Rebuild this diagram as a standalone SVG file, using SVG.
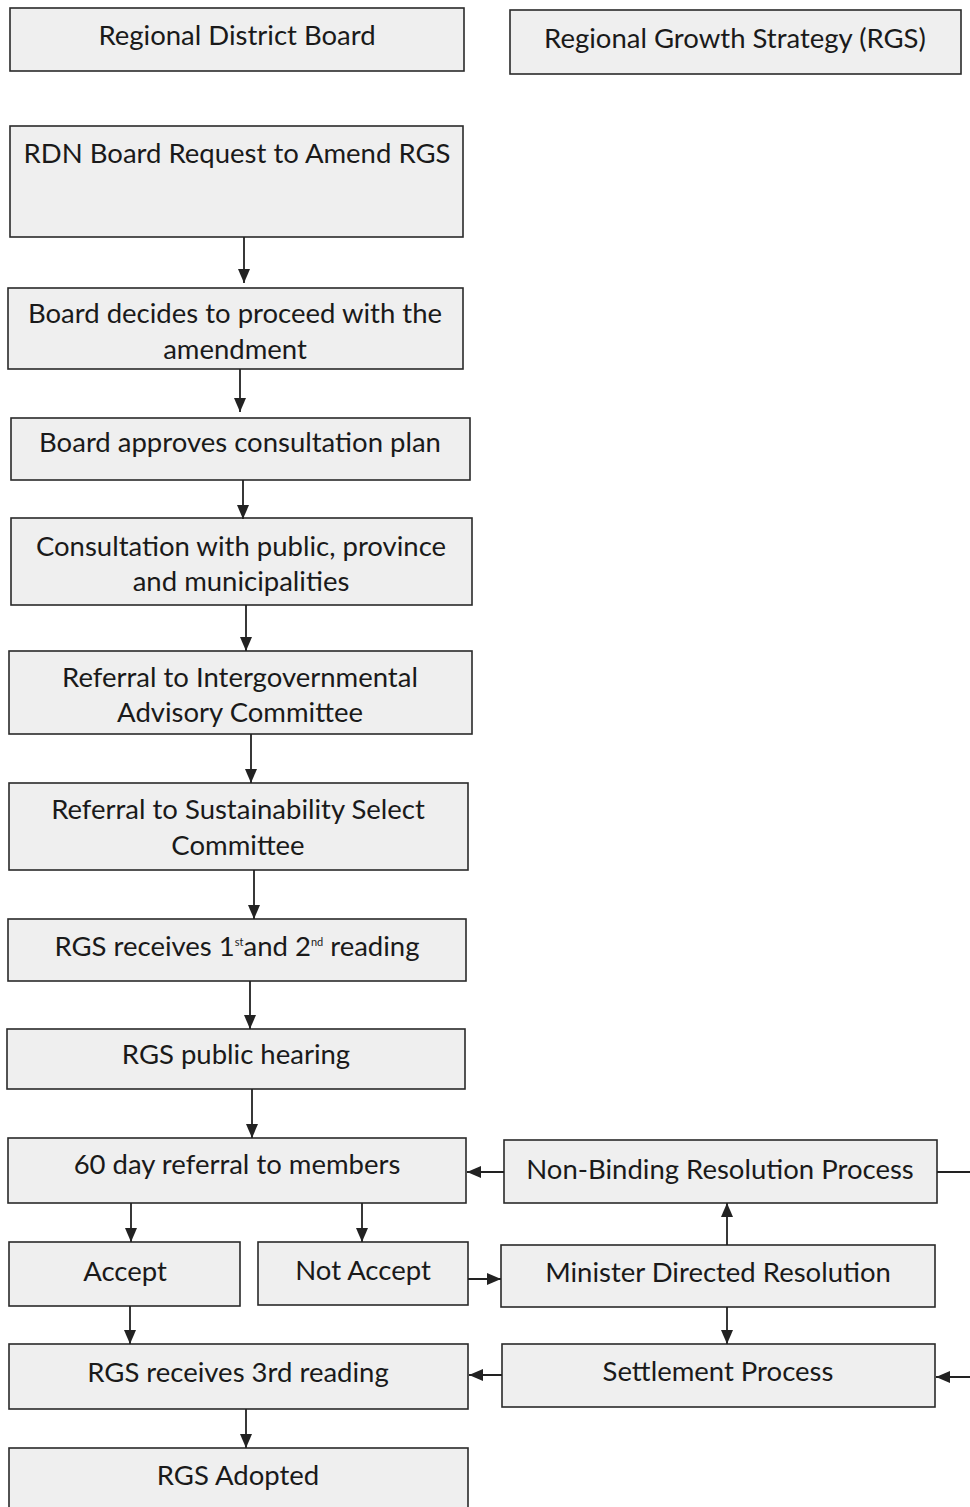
<svg xmlns="http://www.w3.org/2000/svg" width="970" height="1507" viewBox="0 0 970 1507">
  <defs>
    <marker id="arrow" viewBox="0 0 14 14" refX="14" refY="7" markerWidth="14" markerHeight="14" markerUnits="userSpaceOnUse" orient="auto">
      <path d="M0,1 L14,7 L0,13 Z" fill="#222"/>
    </marker>
  </defs>
  <style>
    .box { fill: #efefef; stroke: #2a2a2a; stroke-width: 1.6; }
    .lbl { font-family: Lato, "Open Sans", sans-serif; font-size: 27.5px; fill: #1a1a1a; text-anchor: middle; }
    .sup { font-size: 11px; }
    .edge { fill: none; stroke: #222; stroke-width: 1.8; }
    .edge-a { fill: none; stroke: #222; stroke-width: 1.8; marker-end: url(#arrow); }
  </style>
  <rect width="970" height="1507" fill="#ffffff"/>

  <g id="n-rdb"><rect class="box" x="10" y="8" width="454" height="63"/><text class="lbl" x="237" y="45">Regional District Board</text></g>
  <g id="n-rgs"><rect class="box" x="510" y="10" width="451" height="64"/><text class="lbl" x="735" y="48">Regional Growth Strategy (RGS)</text></g>
  <g id="n-request"><rect class="box" x="10" y="126" width="453" height="111"/><text class="lbl" x="237" y="163">RDN Board Request to Amend RGS</text></g>
  <g id="n-decides"><rect class="box" x="8" y="288" width="455" height="81"/><text class="lbl" x="235" y="323">Board decides to proceed with the</text><text class="lbl" x="235" y="359">amendment</text></g>
  <g id="n-plan"><rect class="box" x="11" y="418" width="459" height="62"/><text class="lbl" x="240" y="452">Board approves consultation plan</text></g>
  <g id="n-consult"><rect class="box" x="11" y="518" width="461" height="87"/><text class="lbl" x="241" y="556">Consultation with public, province</text><text class="lbl" x="241" y="591">and municipalities</text></g>
  <g id="n-iac"><rect class="box" x="9" y="651" width="463" height="83"/><text class="lbl" x="240" y="687">Referral to Intergovernmental</text><text class="lbl" x="240" y="722">Advisory Committee</text></g>
  <g id="n-ssc"><rect class="box" x="9" y="783" width="459" height="87"/><text class="lbl" x="238" y="819">Referral to Sustainability Select</text><text class="lbl" x="238" y="855">Committee</text></g>
  <g id="n-reading12"><rect class="box" x="8" y="919" width="458" height="62"/><text class="lbl" x="237" y="956">RGS receives 1<tspan class="sup" dy="-10">st</tspan><tspan dy="10">and 2</tspan><tspan class="sup" dy="-10">nd</tspan><tspan dy="10"> reading</tspan></text></g>
  <g id="n-hearing"><rect class="box" x="7" y="1029" width="458" height="60"/><text class="lbl" x="236" y="1064">RGS public hearing</text></g>
  <g id="n-referral"><rect class="box" x="8" y="1138" width="458" height="65"/><text class="lbl" x="237" y="1174">60 day referral to members</text></g>
  <g id="n-accept"><rect class="box" x="9" y="1242" width="231" height="64"/><text class="lbl" x="125" y="1281">Accept</text></g>
  <g id="n-notaccept"><rect class="box" x="258" y="1242" width="210" height="63"/><text class="lbl" x="363" y="1280">Not Accept</text></g>
  <g id="n-reading3"><rect class="box" x="9" y="1344" width="459" height="65"/><text class="lbl" x="238" y="1382">RGS receives 3rd reading</text></g>
  <g id="n-adopted"><rect class="box" x="9" y="1448" width="459" height="70"/><text class="lbl" x="238" y="1485">RGS Adopted</text></g>
  <g id="n-nonbinding"><rect class="box" x="504" y="1140" width="433" height="63"/><text class="lbl" x="720" y="1179">Non-Binding Resolution Process</text></g>
  <g id="n-minister"><rect class="box" x="501" y="1245" width="434" height="62"/><text class="lbl" x="718" y="1282">Minister Directed Resolution</text></g>
  <g id="n-settlement"><rect class="box" x="502" y="1344" width="433" height="63"/><text class="lbl" x="718" y="1381">Settlement Process</text></g>

  <g id="connectors">
    <line class="edge-a" x1="244" y1="237" x2="244" y2="283"/>
    <line class="edge-a" x1="240" y1="369" x2="240" y2="412"/>
    <line class="edge-a" x1="243" y1="480" x2="243" y2="519"/>
    <line class="edge-a" x1="246" y1="605" x2="246" y2="651"/>
    <line class="edge-a" x1="251" y1="734" x2="251" y2="783"/>
    <line class="edge-a" x1="254" y1="870" x2="254" y2="919"/>
    <line class="edge-a" x1="250" y1="981" x2="250" y2="1029"/>
    <line class="edge-a" x1="252" y1="1089" x2="252" y2="1138"/>
    <line class="edge-a" x1="131" y1="1203" x2="131" y2="1242"/>
    <line class="edge-a" x1="362" y1="1203" x2="362" y2="1242"/>
    <line class="edge-a" x1="130" y1="1306" x2="130" y2="1344"/>
    <line class="edge-a" x1="246" y1="1409" x2="246" y2="1448"/>
    <line class="edge-a" x1="468" y1="1279" x2="501" y2="1279"/>
    <line class="edge-a" x1="727" y1="1245" x2="727" y2="1203"/>
    <line class="edge-a" x1="727" y1="1307" x2="727" y2="1344"/>
    <line class="edge-a" x1="504" y1="1172" x2="467" y2="1172"/>
    <line class="edge-a" x1="502" y1="1375" x2="469" y2="1375"/>
    <line class="edge" x1="937" y1="1172" x2="970" y2="1172"/>
    <line class="edge-a" x1="970" y1="1377" x2="936" y2="1377"/>
  </g>
</svg>
